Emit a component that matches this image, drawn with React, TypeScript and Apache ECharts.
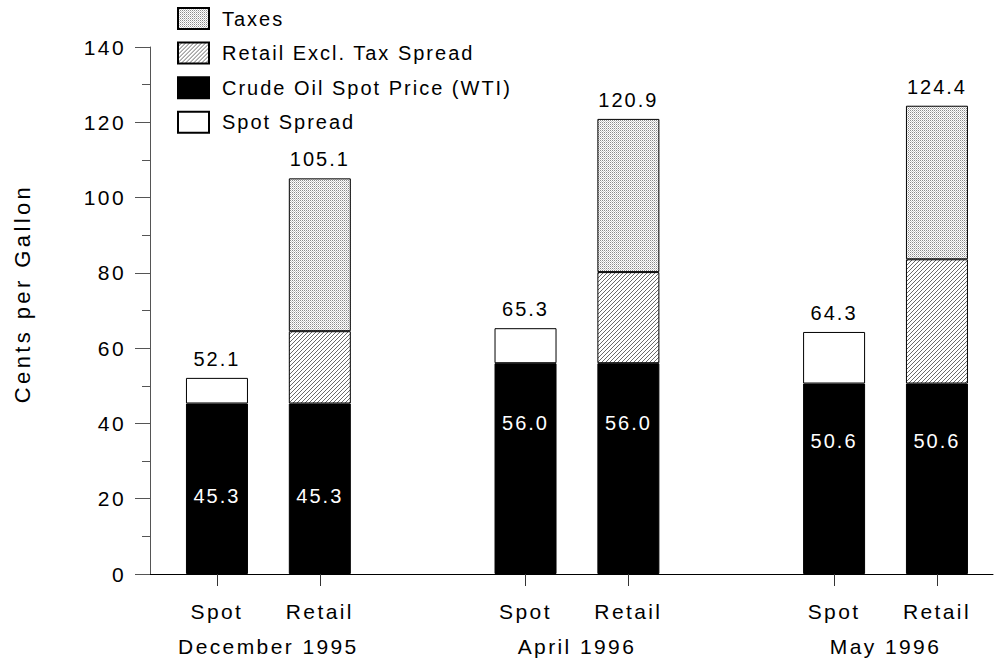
import React, { useEffect, useRef } from "react";
import * as echarts from "echarts";

// ---- data ----
const barPositions = [1, 2, 4, 5, 7, 8];
const barTypes = ["Spot", "Retail", "Spot", "Retail", "Spot", "Retail"];
const monthPositions = [1.5, 4.5, 7.5];
const months = ["December 1995", "April 1996", "May 1996"];
const crudeOil = [45.3, 45.3, 56.0, 56.0, 50.6, 50.6];
const spotSpread = [6.8, null, 9.3, null, 13.7, null];
const retailSpread = [null, 19.2, null, 24.2, null, 33.0];
const taxes = [null, 40.6, null, 40.7, null, 40.8];
const totals = [52.1, 105.1, 65.3, 120.9, 64.3, 124.4];
const yTicks = [0, 20, 40, 60, 80, 100, 120, 140];

// label offsets (px from bar top) for the white crude labels
const crudeLabelOffsets = [93, 93, 60, 60, 57, 57];

const FONT = "'Liberation Sans', Arial, sans-serif";

function makeHatch(): HTMLCanvasElement {
  const c = document.createElement("canvas");
  c.width = 4;
  c.height = 4;
  const ctx = c.getContext("2d")!;
  ctx.fillStyle = "#fff";
  ctx.fillRect(0, 0, 4, 4);
  ctx.fillStyle = "#6a6a6a";
  for (let x = 0; x < 4; x++) {
    for (let y = 0; y < 4; y++) {
      if ((x + y) % 4 === 3) ctx.fillRect(x, y, 1, 1);
    }
  }
  return c;
}

function makeStipple(): HTMLCanvasElement {
  const c = document.createElement("canvas");
  c.width = 4;
  c.height = 4;
  const ctx = c.getContext("2d")!;
  ctx.fillStyle = "#fff";
  ctx.fillRect(0, 0, 4, 4);
  for (let x = 0; x < 4; x++) {
    for (let y = 0; y < 4; y++) {
      if ((x + y) % 2 === 0) {
        ctx.fillStyle = x % 2 === 0 && y % 2 === 0 ? "#8a8a8a" : "#c8c8c8";
        ctx.fillRect(x, y, 1, 1);
      }
    }
  }
  return c;
}

export default function App() {
  const ref = useRef<HTMLDivElement>(null);

  useEffect(() => {
    document.body.style.margin = "0";
    if (!ref.current) return;
    const chart = echarts.init(ref.current, undefined, { renderer: "svg" });

    const hatch = { image: makeHatch(), repeat: "repeat" } as any;
    const stipple = { image: makeStipple(), repeat: "repeat" } as any;

    // data stored as [value, position] so that the value dimension is the stacked one
    const toPairs = (arr: (number | null)[]) =>
      arr.map((v, i) => [v === null ? "-" : v, barPositions[i]]);

    const xMin = 0.349;
    const xMax = 8.545;

    const topLabel = {
      show: true,
      position: "top",
      distance: 9,
      color: "#000",
      fontSize: 20,
      fontFamily: FONT,
      formatter: (p: any) => totals[p.dataIndex].toFixed(1),
    };

    const option: any = {
      animation: false,
      textStyle: { fontFamily: FONT },
      grid: { left: 150, right: 1, top: 47, bottom: 88, outerBoundsMode: "none" },
      legend: {
        orient: "vertical",
        left: 172,
        top: 2,
        icon: "rect",
        itemWidth: 31,
        itemHeight: 21,
        itemGap: 11.6,
        textStyle: { fontSize: 20, color: "#000", fontFamily: FONT, padding: [0, 0, 0, 8] },
        data: ["Taxes", "Retail Excl. Tax Spread", "Crude Oil Spot Price (WTI)", "Spot Spread"],
      },
      xAxis: [
        {
          type: "value",
          min: xMin,
          max: xMax,
          splitLine: { show: false },
          axisLine: { show: true, lineStyle: { color: "#000", width: 1 } },
          axisTick: {
            show: true,
            customValues: barPositions,
            length: 12,
            lineStyle: { color: "#333" },
          },
          axisLabel: {
            customValues: barPositions,
            margin: 27,
            fontSize: 21,
            color: "#000",
            fontFamily: FONT,
            formatter: (v: number) => {
              const i = barPositions.indexOf(v);
              return i >= 0 ? barTypes[i] : "";
            },
          },
        },
        {
          type: "value",
          position: "bottom",
          min: xMin,
          max: xMax,
          splitLine: { show: false },
          axisLine: { show: false },
          axisTick: { show: false },
          axisLabel: {
            customValues: monthPositions,
            margin: 62,
            fontSize: 21,
            color: "#000",
            fontFamily: FONT,
            formatter: (v: number) => {
              const i = monthPositions.indexOf(v);
              return i >= 0 ? months[i] : "";
            },
          },
        },
      ],
      yAxis: {
        type: "value",
        min: 0,
        max: 140,
        interval: 20,
        name: "Cents per Gallon",
        nameLocation: "middle",
        nameGap: 117,
        nameTextStyle: { fontSize: 22, color: "#000", fontFamily: FONT, padding: [0, 0, 0, 34] },
        splitLine: { show: false },
        axisLine: { show: true, lineStyle: { color: "#555", width: 1 } },
        axisTick: { show: true, length: 15, lineStyle: { color: "#555" } },
        minorTick: { show: true, splitNumber: 2, length: 8, lineStyle: { color: "#555" } },
        minorSplitLine: { show: false },
        axisLabel: {
          margin: 24,
          fontSize: 21,
          color: "#000",
          fontFamily: FONT,
          customValues: yTicks,
        },
      },
      series: [
        {
          name: "Crude Oil Spot Price (WTI)",
          type: "bar",
          stack: "total",
          barWidth: 62,
          encode: { x: 1, y: 0 },
          itemStyle: { color: "#000", borderColor: "#000", borderWidth: 1 },
          data: crudeOil.map((v, i) => ({
            value: [v, barPositions[i]],
            label: {
              show: true,
              position: ["50%", crudeLabelOffsets[i]],
              align: "center",
              verticalAlign: "middle",
              color: "#fff",
              fontSize: 20,
              fontFamily: FONT,
              formatter: () => v.toFixed(1),
            },
          })),
        },
        {
          name: "Spot Spread",
          type: "bar",
          stack: "total",
          barWidth: 62,
          encode: { x: 1, y: 0 },
          itemStyle: { color: "#fff", borderColor: "#000", borderWidth: 1 },
          label: topLabel,
          data: toPairs(spotSpread),
        },
        {
          name: "Retail Excl. Tax Spread",
          type: "bar",
          stack: "total",
          barWidth: 62,
          encode: { x: 1, y: 0 },
          itemStyle: { color: hatch, borderColor: "#000", borderWidth: 1 },
          data: toPairs(retailSpread),
        },
        {
          name: "Taxes",
          type: "bar",
          stack: "total",
          barWidth: 62,
          encode: { x: 1, y: 0 },
          itemStyle: { color: stipple, borderColor: "#000", borderWidth: 1 },
          label: topLabel,
          data: toPairs(taxes),
        },
      ],
    };

    chart.setOption(option);
    return () => chart.dispose();
  }, []);

  return (
    <>
      <style>{`
        .chart-box text { letter-spacing: 2px; }
        .chart-box text[style*="21px"], .chart-box text[font-size="21"] { letter-spacing: 2.4px; }
        .chart-box text[style*="22px"], .chart-box text[font-size="22"] { letter-spacing: 3.4px; }
      `}</style>
      <div className="chart-box" ref={ref} style={{ width: 994, height: 662 }} />
    </>
  );
}
